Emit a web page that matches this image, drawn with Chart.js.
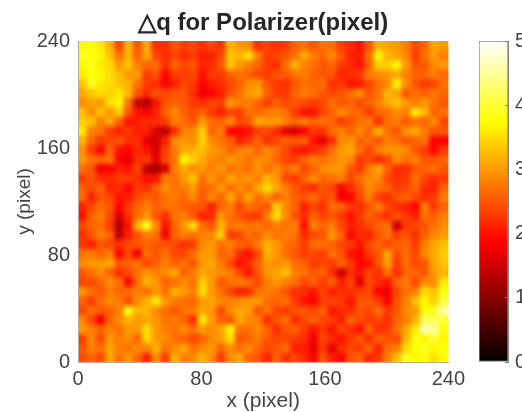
<!DOCTYPE html>
<html>
<head>
<meta charset="utf-8">
<title>dq polarizer</title>
<script src="https://cdn.jsdelivr.net/npm/chart.js@4"></script>
<style>
  html, body { margin: 0; padding: 0; background: #fff; overflow: hidden; }
  #wrap { position: relative; width: 522px; height: 412px; overflow: hidden; }
  canvas { position: absolute; top: 0; filter: blur(0.35px); }
  #heatChart { left: 0; }
  #barChart { left: 470px; }
</style>
</head>
<body>
<div id="wrap">
  <canvas id="heatChart" width="470" height="412"></canvas>
  <canvas id="barChart" width="52" height="412"></canvas>
</div>
<script>
const titleText = '\u25B3q for Polarizer(pixel)';
const xLabel = 'x (pixel)';
const yLabel = 'y (pixel)';
const axisTicks = [0, 80, 160, 240];
const colorbarTicks = [0, 1, 2, 3, 4, 5];
const colorbarRange = [0, 5];

// top row first
const deltaQ = [
  [3.7,3.8,3.6,3.2,2.4,3.2,2.5,3.1,2.2,2.2,2.5,2.3,2.4, 2.2,2.4,2.2,3.2,3.0,2.9,2.2,2.4,2.2,2.3,2.6,2.7,2.5,2.7, 2.7,2.3,2.2,2.0,2.5,3.2,3.1,3.0,2.8,2.4,2.6,3.1,3.0],
  [3.9,3.8,3.7,3.3,2.7,3.2,2.6,3.1,2.4,2.2,2.4,2.2,2.3, 2.1,2.1,2.4,3.3,3.2,3.5,2.8,2.3,2.4,2.5,2.7,3.1,2.8,2.6, 2.9,2.5,2.1,2.1,2.7,3.7,3.2,3.1,2.9,2.3,2.7,3.0,2.8],
  [3.7,3.9,3.6,3.5,3.0,3.3,2.8,2.6,2.7,2.2,2.6,2.4,2.5, 2.1,2.2,2.5,3.3,3.0,2.8,2.6,2.3,2.2,2.7,3.2,2.8,2.7,2.5, 2.6,2.3,2.2,2.0,2.6,3.4,3.4,3.7,3.0,2.5,2.5,2.9,3.0],
  [3.6,3.8,3.7,3.5,3.3,3.0,3.0,2.3,2.5,1.9,2.3,2.3,2.4, 2.0,2.3,2.3,2.6,2.7,2.6,2.4,2.3,2.5,2.5,2.7,2.8,2.6,2.5, 2.5,2.1,2.2,2.3,2.8,2.9,3.0,3.1,2.8,2.6,2.6,2.8,2.6],
  [3.3,3.9,3.6,3.5,3.3,3.2,2.7,2.3,2.2,1.9,2.1,2.4,2.3, 1.9,2.1,2.2,2.4,2.6,2.9,3.0,2.5,2.3,2.2,2.5,2.7,2.6,2.7, 2.2,2.3,2.0,2.1,2.4,2.7,2.9,3.7,2.9,2.5,2.3,2.4,2.7],
  [3.1,3.3,3.5,3.4,3.6,3.2,2.5,2.2,2.5,2.4,2.5,2.5,2.2, 1.8,1.9,2.1,2.5,2.7,3.0,3.1,2.6,2.3,2.3,2.6,2.8,2.7,2.5, 2.4,2.5,2.7,2.9,2.5,2.7,3.2,3.1,2.5,2.7,2.6,2.8,2.6],
  [2.9,3.1,3.0,3.5,3.7,2.7,1.5,1.3,2.0,2.5,2.6,2.5,2.3, 2.2,2.4,2.3,3.0,2.8,2.8,2.6,2.3,2.6,2.4,2.5,2.4,2.3,2.4, 2.7,2.5,2.6,2.4,2.6,2.8,3.1,3.3,3.0,2.8,3.0,2.7,2.5],
  [3.3,2.9,3.3,3.0,3.4,2.5,2.0,1.9,2.1,2.6,2.9,2.6,2.4, 2.6,2.3,2.1,2.4,2.3,2.7,2.6,2.8,2.8,2.7,2.3,2.0,2.0,2.4, 2.6,2.9,2.7,2.6,2.3,2.6,2.7,2.9,2.8,3.6,3.2,2.6,2.7],
  [3.4,3.3,2.8,3.1,2.6,2.0,2.1,2.2,2.2,2.3,2.8,2.7,2.5, 3.0,2.7,2.6,2.9,2.4,2.5,3.1,3.0,3.0,2.8,2.6,2.8,2.6,2.7, 2.6,2.3,2.5,2.7,2.8,2.2,2.7,2.8,2.5,2.7,2.6,2.9,2.4],
  [3.6,2.8,2.7,2.3,2.1,2.3,2.1,2.1,1.6,1.4,2.2,2.8,2.9, 3.4,2.6,2.8,1.9,1.9,2.0,2.3,2.4,2.2,1.7,1.6,1.9,2.3,2.2, 2.7,2.8,2.6,2.9,2.6,3.2,2.7,2.5,3.0,3.1,2.8,2.5,2.5],
  [3.2,2.6,2.3,2.4,2.5,2.2,2.2,1.7,1.5,2.1,2.9,3.0,2.9, 3.4,2.9,2.7,2.6,2.1,2.3,2.6,2.2,2.4,2.6,2.5,2.6,2.0,1.7, 2.2,2.9,3.0,2.6,2.7,2.5,2.8,2.7,2.5,2.6,2.7,1.9,1.9],
  [2.9,2.3,1.9,2.6,2.0,1.9,2.2,2.0,1.6,2.3,2.8,3.1,3.2, 3.3,3.0,2.9,2.6,2.8,2.9,2.6,2.9,2.7,2.4,2.1,2.0,2.2,2.3, 2.7,3.0,3.1,2.7,2.4,2.8,3.0,3.0,2.9,2.5,2.3,1.9,2.3],
  [3.0,2.7,2.6,2.7,1.9,1.7,2.2,2.3,1.7,2.4,2.7,3.7,3.4, 3.1,2.9,2.8,3.0,2.9,2.7,2.9,2.9,2.6,2.4,2.3,2.6,2.8,2.7, 2.8,3.0,2.9,2.3,2.4,2.2,2.4,2.9,2.7,2.8,2.5,2.5,2.6],
  [2.7,2.5,1.8,1.9,2.1,2.0,2.4,1.4,1.2,1.6,2.8,3.1,2.9, 3.0,2.8,3.0,2.7,2.8,2.7,3.0,2.7,2.9,2.6,2.8,2.4,2.6,2.9, 3.0,3.0,2.5,2.3,2.8,3.1,2.6,2.2,2.2,2.5,2.6,2.7,2.5],
  [2.3,2.5,2.2,2.2,2.3,2.3,2.2,2.0,2.0,2.8,2.7,3.0,3.3, 2.7,3.0,2.7,3.1,2.9,3.0,2.8,3.2,3.0,2.4,2.3,2.6,2.9,2.6, 2.7,2.8,2.4,2.7,2.9,2.9,2.4,2.2,2.3,2.7,2.4,2.2,2.3],
  [2.6,2.4,2.6,2.1,2.2,1.9,2.3,2.2,2.6,2.9,2.7,2.8,3.0, 2.6,2.7,3.0,2.7,2.9,2.7,3.1,3.5,3.1,2.8,2.5,2.3,2.2,2.5, 2.4,1.9,2.2,2.5,2.9,2.7,2.6,2.3,2.4,2.6,2.2,2.1,2.6],
  [2.7,2.1,2.5,2.4,2.0,2.1,2.4,2.6,2.5,2.7,2.8,2.6,2.9, 2.5,2.9,2.6,3.1,2.7,3.1,2.7,2.9,2.6,2.8,2.6,2.5,2.7,2.4, 2.5,1.8,1.9,2.4,2.8,2.3,2.2,2.5,2.6,2.4,2.2,2.3,2.8],
  [2.1,2.4,2.7,2.5,1.9,2.3,2.6,2.8,2.6,2.7,2.7,2.6,2.5, 2.5,2.1,2.6,2.8,2.4,2.7,2.6,2.5,3.4,2.9,2.6,2.1,2.4,2.2, 2.7,2.6,2.3,2.2,2.5,2.8,2.4,2.2,2.1,1.9,2.8,2.3,2.6],
  [2.0,2.6,2.8,2.4,1.6,2.2,2.7,3.0,2.5,2.2,2.7,2.8,2.5, 2.1,2.2,3.0,2.7,2.5,2.3,2.3,2.8,3.5,2.9,2.5,2.2,2.6,2.4, 2.5,2.3,2.0,2.3,2.6,2.4,2.2,2.5,2.3,2.1,2.7,2.6,2.8],
  [2.4,2.6,2.7,2.3,1.3,2.0,3.2,3.9,2.9,2.0,2.6,3.0,3.5, 2.7,2.5,3.2,2.7,2.8,2.7,2.8,2.6,2.8,2.7,2.8,2.0,2.8,2.6, 2.8,2.4,2.1,2.2,2.4,2.6,2.7,1.5,2.3,2.4,2.5,2.7,2.9],
  [2.2,2.5,2.8,2.6,1.4,2.1,2.5,2.8,2.7,1.8,2.6,2.8,2.7, 2.8,2.9,3.4,2.3,2.4,2.7,2.6,2.9,2.7,2.8,2.7,2.2,2.4,2.5, 3.0,2.6,1.9,2.2,2.1,2.5,2.7,2.3,2.5,2.2,2.6,2.9,3.0],
  [2.3,2.1,2.5,2.4,2.2,2.4,2.5,2.6,2.5,2.5,2.4,2.2,2.3, 2.9,3.0,2.7,2.8,2.6,2.5,2.8,3.2,3.0,2.7,2.6,2.3,2.7,2.7, 2.6,2.4,2.3,2.0,2.4,2.6,2.4,2.6,2.6,2.3,2.8,3.1,3.3],
  [2.7,2.8,2.6,2.8,1.9,2.4,1.8,2.7,2.5,2.7,2.4,2.4,2.7, 3.0,3.0,2.6,2.7,2.2,2.0,2.4,3.2,3.0,2.7,2.5,2.3,2.4,2.3, 2.7,2.5,2.0,1.9,2.3,2.5,3.1,2.4,2.7,2.4,2.9,3.1,3.4],
  [2.9,3.0,3.0,3.1,2.5,2.6,2.7,2.4,2.6,2.8,2.6,2.7,2.5, 3.0,3.1,2.8,2.4,2.0,2.2,2.6,3.0,2.9,3.0,2.7,2.6,2.3,2.4, 2.3,2.6,2.3,1.9,2.0,2.5,3.0,2.3,2.7,2.4,2.5,3.1,3.3],
  [2.5,2.7,2.9,2.6,2.2,2.4,2.7,3.0,2.8,2.9,3.1,2.6,2.8, 3.1,3.0,2.9,2.8,2.4,2.0,2.5,3.0,3.1,3.3,2.8,2.7,2.5,2.6, 2.2,1.5,2.2,2.0,2.4,2.2,2.7,2.2,2.6,2.6,2.5,3.0,3.2],
  [2.4,2.4,2.6,2.9,2.7,1.9,2.7,3.2,3.0,2.6,2.7,2.9,2.7, 3.4,3.0,2.5,2.7,2.8,2.7,2.4,2.8,3.0,2.8,2.7,2.4,2.6,2.3, 2.6,2.1,2.4,1.7,2.4,2.2,2.0,2.6,2.8,2.4,2.9,2.9,3.6],
  [3.0,2.7,2.5,2.8,2.6,2.7,2.8,2.7,3.0,2.7,3.2,3.0,2.8, 3.5,3.0,2.7,2.4,2.1,2.2,2.7,2.8,2.7,2.5,2.2,2.2,2.0,2.4, 2.1,2.2,2.2,2.3,2.4,1.9,1.8,2.4,2.7,2.8,3.5,3.3,3.8],
  [2.6,2.3,2.7,2.9,2.8,2.4,2.9,3.2,3.6,3.0,2.8,2.7,2.6, 3.0,3.1,2.9,2.8,2.9,3.0,3.0,2.7,2.6,2.7,2.3,2.0,1.9,2.3, 2.4,2.3,2.0,2.5,2.5,2.3,1.9,2.5,2.8,3.3,3.7,3.4,4.1],
  [2.4,2.7,2.5,2.6,2.8,3.8,3.2,3.2,2.9,2.7,2.5,2.7,2.8, 3.1,3.0,2.4,2.9,3.1,3.0,2.5,2.7,2.4,2.3,2.5,2.5,2.4,2.6, 2.0,2.2,2.2,2.5,2.4,2.7,2.3,2.5,2.9,3.0,3.8,3.9,4.6],
  [2.9,2.4,1.8,2.6,2.9,3.2,3.0,3.1,3.0,2.7,2.8,2.6,2.2, 3.6,3.0,2.6,2.5,3.1,2.9,2.8,2.2,2.5,2.7,2.2,2.4,2.6,2.4, 2.3,2.1,2.6,2.4,2.3,2.4,2.2,2.6,2.8,3.2,4.2,4.2,4.0],
  [3.0,2.8,2.6,2.8,2.7,3.0,3.0,3.5,3.0,2.8,2.7,2.9,2.7, 3.0,2.9,3.1,3.7,2.7,2.7,2.9,2.6,2.2,2.5,2.6,2.3,2.0,2.3, 2.0,2.4,2.2,2.0,2.6,2.2,2.3,2.7,3.1,3.6,4.6,4.5,3.8],
  [2.3,2.9,2.4,3.0,2.8,2.9,2.6,3.5,3.0,2.9,2.7,2.6,2.4, 2.6,2.9,3.0,3.5,2.5,2.6,2.8,2.5,2.4,2.4,2.3,2.2,1.8,2.4, 2.2,2.0,2.3,2.5,2.2,2.6,2.5,2.4,3.2,3.8,3.7,4.0,3.7],
  [2.5,2.8,2.7,3.1,2.8,2.7,2.9,2.8,3.2,2.7,2.9,3.1,2.7, 2.9,3.0,2.6,2.9,2.7,2.9,2.6,2.4,2.5,2.7,2.1,2.1,1.7,2.3, 1.7,2.2,2.4,2.3,2.6,2.1,2.7,2.8,3.5,3.8,3.9,3.7,3.8],
  [2.4,2.6,2.4,3.1,2.7,3.0,2.6,2.1,2.9,2.3,3.2,2.8,2.9, 3.2,2.9,2.3,2.9,3.1,2.6,2.5,2.1,2.6,2.2,2.4,2.2,1.9,2.5, 2.1,1.9,2.5,2.6,2.1,2.3,2.8,3.3,3.9,3.7,3.8,3.5,3.8]
];

const fontName = '"Liberation Sans", Arial, sans-serif';
const inkColor = '#444';

// matlab "hot" colormap, 0..5
function hotColor(v) {
  const t = v / 5;
  const r = Math.min(1, t / 0.375);
  const g = Math.max(0, Math.min(1, (t - 0.375) / 0.375));
  const b = Math.max(0, (t - 0.75) / 0.25);
  return `rgb(${Math.round(r * 255)},${Math.round(g * 255)},${Math.round(b * 255)})`;
}

const rowCount = deltaQ.length;
const colCount = deltaQ[0].length;
const cellW = 240 / colCount;
const cellH = 240 / rowCount;

// every row of the grid is one dataset of floating bars
const heatDatasets = deltaQ.map((row, r) => ({
  data: row.map((v, c) => ({
    x: (c + 0.5) * cellW,
    y: [240 - (r + 1) * cellH, 240 - r * cellH]
  })),
  backgroundColor: row.map(hotColor),
  borderWidth: 0,
  barThickness: 10,
  grouped: false
}));

// soften the cells, the source image is a blurry screenshot
const softenPlugin = {
  id: 'soften',
  afterDatasetsDraw(chart) {
    const { ctx, canvas, chartArea: a } = chart;
    ctx.save();
    ctx.beginPath();
    ctx.rect(a.left, a.top, a.width, a.height);
    ctx.clip();
    ctx.filter = 'blur(2px)';
    ctx.drawImage(canvas, a.left, a.top, a.width, a.height, a.left, a.top, a.width, a.height);
    ctx.restore();
  }
};

const axisGrid = { display: true, drawOnChartArea: false, drawTicks: false, z: 1 };
const axisBorder = { display: true, color: '#aaa', width: 1, z: 1 };

new Chart(document.getElementById('heatChart').getContext('2d'), {
  type: 'bar',
  data: { datasets: heatDatasets },
  plugins: [softenPlugin],
  options: {
    responsive: false,
    animation: false,
    layout: { padding: { top: 0, left: 0, right: 19, bottom: 0 } },
    plugins: {
      legend: { display: false },
      tooltip: { enabled: false },
      title: {
        display: true,
        fullSize: false,
        text: titleText,
        color: '#262626',
        font: { family: fontName, size: 24, weight: 'bold' },
        padding: { top: 8.5, bottom: 3.7 }
      }
    },
    scales: {
      x: {
        type: 'linear',
        offset: false,
        min: 0,
        max: 240,
        afterBuildTicks: axis => { axis.ticks = axisTicks.map(v => ({ value: v })); },
        ticks: { color: inkColor, font: { family: fontName, size: 20 }, padding: 5, maxRotation: 0 },
        grid: axisGrid,
        border: axisBorder,
        title: { display: true, text: xLabel, color: inkColor, font: { family: fontName, size: 21, lineHeight: 1 }, padding: 0 },
        afterFit: axis => { axis.height = 50; }
      },
      y: {
        min: 0,
        max: 240,
        afterBuildTicks: axis => { axis.ticks = axisTicks.map(v => ({ value: v })); },
        ticks: { color: inkColor, font: { family: fontName, size: 20 }, padding: 8 },
        grid: axisGrid,
        border: axisBorder,
        title: { display: true, text: yLabel, color: inkColor, font: { family: fontName, size: 19 }, padding: { top: 13, bottom: 0 } },
        afterFit: axis => { axis.width = 78; }
      }
    }
  }
});

// colour bar, one floating bar with the colormap as a gradient
function barGradient(context) {
  const { ctx, chartArea: a } = context.chart;
  if (!a) return '#f00';
  const grad = ctx.createLinearGradient(0, a.bottom, 0, a.top);
  grad.addColorStop(0, '#000');
  grad.addColorStop(0.375, '#f00');
  grad.addColorStop(0.75, '#ff0');
  grad.addColorStop(1, '#fff');
  return grad;
}

new Chart(document.getElementById('barChart').getContext('2d'), {
  type: 'bar',
  data: {
    labels: [''],
    datasets: [{ data: [colorbarRange], backgroundColor: barGradient, barPercentage: 1, categoryPercentage: 1, borderWidth: 1, borderColor: '#888', borderSkipped: false }]
  },
  options: {
    responsive: false,
    animation: false,
    layout: { padding: { top: 41, left: 9, right: 0, bottom: 50 } },
    plugins: { legend: { display: false }, tooltip: { enabled: false } },
    scales: {
      x: { display: false },
      y: {
        position: 'right',
        min: 0,
        max: 5,
        afterBuildTicks: axis => { axis.ticks = colorbarTicks.map(v => ({ value: v })); },
        ticks: { color: inkColor, font: { family: fontName, size: 20 }, padding: 10 },
        grid: { display: true, drawOnChartArea: false, tickLength: -3, color: '#777', z: 1 },
        border: { display: true, color: '#888', width: 1, z: 1 },
        afterFit: axis => { axis.width = 14; }
      }
    }
  }
});
</script>
</body>
</html>
